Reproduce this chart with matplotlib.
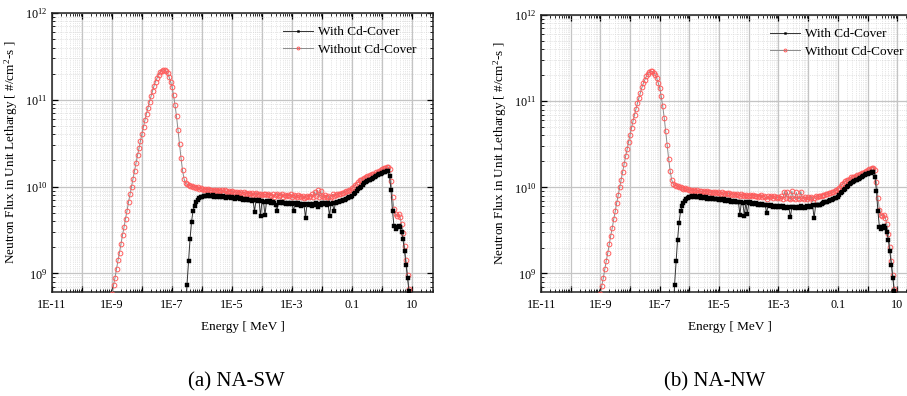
import matplotlib
matplotlib.use("Agg")
import matplotlib.pyplot as plt
from matplotlib.ticker import LogLocator, FuncFormatter, NullFormatter

plt.rcParams['font.family'] = ['Liberation Serif', 'DejaVu Serif']
plt.rcParams['mathtext.fontset'] = 'custom'
plt.rcParams['mathtext.rm'] = 'Liberation Serif'
plt.rcParams['mathtext.it'] = 'Liberation Serif:italic'

# ---------------- data (log10 values) ----------------
# energy grid, log10(E / MeV)
log_energy = [
    -9.00, -8.95, -8.90, -8.85, -8.80, -8.75, -8.70, -8.65, -8.60, -8.55,
    -8.50, -8.45, -8.40, -8.35, -8.30, -8.25, -8.20, -8.15, -8.10, -8.05,
    -8.00, -7.95, -7.90, -7.85, -7.80, -7.75, -7.70, -7.65, -7.60, -7.55,
    -7.50, -7.45, -7.40, -7.35, -7.30, -7.25, -7.20, -7.15, -7.10, -7.05,
    -7.00, -6.95, -6.90, -6.85, -6.80, -6.75, -6.70, -6.65, -6.60, -6.55,
    -6.50, -6.45, -6.40, -6.35, -6.30, -6.25, -6.20, -6.15, -6.10, -6.05,
    -6.00, -5.95, -5.90, -5.85, -5.80, -5.75, -5.70, -5.65, -5.60, -5.55,
    -5.50, -5.45, -5.40, -5.35, -5.30, -5.25, -5.20, -5.15, -5.10, -5.05,
    -5.00, -4.95, -4.90, -4.85, -4.80, -4.75, -4.70, -4.65, -4.60, -4.55,
    -4.50, -4.45, -4.40, -4.35, -4.30, -4.25, -4.20, -4.15, -4.10, -4.05,
    -4.00, -3.95, -3.90, -3.85, -3.80, -3.75, -3.70, -3.65, -3.60, -3.55,
    -3.50, -3.45, -3.40, -3.35, -3.30, -3.25, -3.20, -3.15, -3.10, -3.05,
    -3.00, -2.95, -2.90, -2.85, -2.80, -2.75, -2.70, -2.65, -2.60, -2.55,
    -2.50, -2.45, -2.40, -2.35, -2.30, -2.25, -2.20, -2.15, -2.10, -2.05,
    -2.00, -1.95, -1.90, -1.85, -1.80, -1.75, -1.70, -1.65, -1.60, -1.55,
    -1.50, -1.45, -1.40, -1.35, -1.30, -1.25, -1.20, -1.15, -1.10, -1.05,
    -1.00, -0.95, -0.90, -0.85, -0.80, -0.75, -0.70, -0.65, -0.60, -0.55,
    -0.50, -0.45, -0.40, -0.35, -0.30, -0.25, -0.20, -0.15, -0.10, -0.05,
    0.00, 0.05, 0.10, 0.15, 0.20, 0.25, 0.30, 0.35, 0.40, 0.45,
    0.50, 0.55, 0.60, 0.65, 0.70, 0.75, 0.80, 0.85, 0.90, 0.95,
]

# Without Cd-Cover: thermal part, E = 1E-9 ... 1E-6 MeV (61 points)
red_thermal = [
    8.76, 8.86, 8.95, 9.05, 9.15, 9.24, 9.34, 9.44, 9.53, 9.63,
    9.72, 9.82, 9.91, 10.00, 10.09, 10.18, 10.27, 10.36, 10.44, 10.53,
    10.61, 10.69, 10.77, 10.84, 10.91, 10.98, 11.04, 11.10, 11.16, 11.21,
    11.25, 11.29, 11.32, 11.335, 11.345, 11.345, 11.33, 11.305, 11.265, 11.21,
    11.15, 11.055, 10.94, 10.81, 10.655, 10.49, 10.33, 10.19, 10.09, 10.04,
    10.025, 10.02, 10.01, 10.005, 10.00, 9.995, 9.985, 9.99, 9.975, 9.98,
    9.97,
]
# Without Cd-Cover: epithermal plateau, E = 10^-5.95 ... 10^-1.5 (90 points)
red_plateau_a = [
    9.965, 9.975, 9.96, 9.97, 9.955, 9.965, 9.95, 9.96, 9.965, 9.945,
    9.96, 9.95, 9.955, 9.94, 9.955, 9.945, 9.935, 9.95, 9.94, 9.945,
    9.93, 9.94, 9.935, 9.925, 9.94, 9.93, 9.92, 9.935, 9.925, 9.915,
    9.93, 9.92, 9.925, 9.90, 9.915, 9.925, 9.905, 9.92, 9.91, 9.90,
    9.915, 9.91, 9.90, 9.92, 9.905, 9.895, 9.91, 9.88, 9.905, 9.915,
    9.895, 9.90, 9.91, 9.885, 9.905, 9.895, 9.90, 9.89, 9.91, 9.885,
    9.90, 9.895, 9.875, 9.90, 9.89, 9.88, 9.895, 9.87, 9.885, 9.895,
    9.88, 9.89, 9.91, 9.885, 9.94, 9.895, 9.955, 9.88, 9.945, 9.89,
    9.875, 9.90, 9.88, 9.895, 9.84, 9.885, 9.91, 9.895, 9.905, 9.91,
]
red_plateau_b = [
    9.97, 9.96, 9.965, 9.955, 9.97, 9.95, 9.96, 9.955, 9.945, 9.96,
    9.945, 9.955, 9.94, 9.95, 9.935, 9.945, 9.95, 9.93, 9.945, 9.935,
    9.925, 9.94, 9.93, 9.92, 9.935, 9.925, 9.93, 9.915, 9.925, 9.92,
    9.91, 9.925, 9.915, 9.905, 9.92, 9.91, 9.90, 9.915, 9.905, 9.895,
    9.91, 9.90, 9.915, 9.895, 9.905, 9.89, 9.90, 9.91, 9.885, 9.90,
    9.89, 9.87, 9.895, 9.885, 9.90, 9.88, 9.895, 9.885, 9.875, 9.89,
    9.88, 9.895, 9.87, 9.95, 9.88, 9.945, 9.875, 9.86, 9.955, 9.88,
    9.87, 9.94, 9.875, 9.865, 9.95, 9.88, 9.87, 9.885, 9.87, 9.885,
    9.875, 9.89, 9.83, 9.88, 9.895, 9.885, 9.90, 9.895, 9.905, 9.91,
]
# Without Cd-Cover: fast part, E = 10^-1.45 ... 10^0.95 (49 points)
red_fast = [
    9.915, 9.92, 9.925, 9.93, 9.935, 9.945, 9.95, 9.96, 9.965, 9.98,
    9.995, 10.015, 10.035, 10.05, 10.07, 10.08, 10.09, 10.10, 10.115, 10.12,
    10.125, 10.13, 10.14, 10.145, 10.15, 10.165, 10.17, 10.18, 10.19, 10.20,
    10.21, 10.215, 10.225, 10.23, 10.20, 10.06, 9.88, 9.74, 9.68, 9.665,
    9.68, 9.645, 9.57, 9.46, 9.31, 9.15, 8.98, 8.82, 8.65,
]

# With Cd-Cover: starts at E = 10^-6.55 (grid index 49)
black_start = 49
black_rise = [
    8.50, 8.87, 9.14, 9.39, 9.59, 9.72, 9.78, 9.82, 9.845, 9.865,
    9.875, 9.885,
]
black_plateau_a = [
    9.89, 9.895, 9.89, 9.90, 9.895, 9.89, 9.90, 9.885, 9.895, 9.88,
    9.89, 9.885, 9.875, 9.89, 9.88, 9.87, 9.885, 9.875, 9.865, 9.88,
    9.87, 9.86, 9.875, 9.865, 9.855, 9.87, 9.85, 9.86, 9.845, 9.855,
    9.84, 9.85, 9.835, 9.845, 9.71, 9.84, 9.83, 9.845, 9.66, 9.835,
    9.825, 9.67, 9.83, 9.82, 9.835, 9.815, 9.825, 9.81, 9.79, 9.72,
    9.825, 9.81, 9.82, 9.805, 9.815, 9.80, 9.81, 9.795, 9.815, 9.80,
    9.72, 9.805, 9.79, 9.81, 9.795, 9.78, 9.80, 9.79, 9.64, 9.80,
    9.785, 9.795, 9.78, 9.80, 9.79, 9.805, 9.77, 9.80, 9.785, 9.805,
    9.795, 9.81, 9.79, 9.805, 9.66, 9.80, 9.81, 9.72, 9.815, 9.82,
]
black_plateau_b = [
    9.885, 9.895, 9.885, 9.895, 9.89, 9.885, 9.895, 9.88, 9.89, 9.875,
    9.885, 9.87, 9.88, 9.87, 9.875, 9.865, 9.87, 9.86, 9.87, 9.855,
    9.865, 9.85, 9.86, 9.845, 9.855, 9.84, 9.85, 9.835, 9.845, 9.83,
    9.84, 9.825, 9.835, 9.68, 9.83, 9.82, 9.67, 9.825, 9.69, 9.815,
    9.825, 9.81, 9.82, 9.805, 9.815, 9.80, 9.81, 9.795, 9.805, 9.79,
    9.80, 9.70, 9.795, 9.78, 9.79, 9.775, 9.785, 9.77, 9.78, 9.775,
    9.785, 9.77, 9.78, 9.765, 9.775, 9.765, 9.775, 9.65, 9.77, 9.775,
    9.765, 9.775, 9.76, 9.77, 9.78, 9.765, 9.775, 9.76, 9.78, 9.77,
    9.785, 9.775, 9.79, 9.64, 9.79, 9.795, 9.79, 9.80, 9.805, 9.815,
]
black_fast = [
    9.825, 9.83, 9.835, 9.84, 9.85, 9.855, 9.865, 9.875, 9.88, 9.89,
    9.91, 9.93, 9.95, 9.97, 9.985, 10.00, 10.02, 10.04, 10.05, 10.06,
    10.07, 10.08, 10.09, 10.10, 10.11, 10.12, 10.13, 10.14, 10.15, 10.155,
    10.165, 10.17, 10.18, 10.175, 10.12, 9.96, 9.72, 9.54, 9.515, 9.535,
    9.55, 9.53, 9.48, 9.39, 9.26, 9.10, 8.95, 8.80, 8.64,
]

panel_titles = ["(a) NA-SW", "(b) NA-NW"]
series_names = ["With Cd-Cover", "Without Cd-Cover"]
x_tick_labels = {-11: "1E-11", -9: "1E-9", -7: "1E-7", -5: "1E-5",
                 -3: "1E-3", -1: "0.1", 1: "10"}

panels = [
    (red_thermal + red_plateau_a + red_fast, black_rise + black_plateau_a + black_fast),
    (red_thermal + red_plateau_b + red_fast, black_rise + black_plateau_b + black_fast),
]

# ---------------- figure ----------------
W, H = 907, 396
fig = plt.figure(figsize=(W / 100, H / 100), dpi=100)
ax_rects = [
    [52 / W, (H - 292) / H, 381 / W, 279 / H],
    [541 / W, (H - 292) / H, 377 / W, 277 / H],
]
legend_anchor = [(231 / 381, 1 - 13 / 279), (229 / 377, 1 - 13 / 277)]
caption_x = [236 / W, 715 / W]

energy = [10 ** v for v in log_energy]

def xfmt(v, pos):
    import math
    if v <= 0:
        return ""
    k = int(round(math.log10(v)))
    return x_tick_labels.get(k, "")

def yfmt(v, pos):
    import math
    if v <= 0:
        return ""
    k = int(round(math.log10(v)))
    return r"$\mathregular{10^{%d}}$" % k

for i, (red_vals, black_vals) in enumerate(panels):
    ax = fig.add_axes(ax_rects[i])
    red_flux = [10 ** v for v in red_vals]
    black_flux = [10 ** v for v in black_vals]
    e_black = energy[black_start:]

    l_red, = ax.plot(energy, red_flux, color='#8c8c8c', lw=0.7,
                     marker='o', ms=3.4, mfc='none', mec='#ff5c5c', mew=0.7,
                     zorder=3)
    l_blk, = ax.plot(e_black, black_flux, color='#333333', lw=0.7,
                     marker='s', ms=2.3, mfc='black', mec='black', mew=0.3,
                     zorder=4)

    ax.set_xscale('log')
    ax.set_yscale('log')
    ax.set_xlim(1e-11, 10 ** 1.7)
    ax.set_ylim(10 ** 8.785, 1e12)

    ax.xaxis.set_major_locator(LogLocator(base=10, numticks=30))
    ax.xaxis.set_minor_locator(LogLocator(base=10, subs=[2, 3, 4, 5, 6, 7, 8, 9], numticks=300))
    ax.xaxis.set_major_formatter(FuncFormatter(xfmt))
    ax.xaxis.set_minor_formatter(NullFormatter())
    ax.yaxis.set_major_locator(LogLocator(base=10, numticks=10))
    ax.yaxis.set_minor_locator(LogLocator(base=10, subs=[2, 3, 4, 5, 6, 7, 8, 9], numticks=100))
    ax.yaxis.set_major_formatter(FuncFormatter(yfmt))
    ax.yaxis.set_minor_formatter(NullFormatter())

    ax.tick_params(which='both', direction='in', top=True, right=True,
                   labelsize=8.7, colors='black')
    ax.tick_params(which='major', length=4, width=0.9)
    ax.tick_params(which='minor', length=2, width=0.6)
    ax.tick_params(axis='x', pad=5)

    ax.grid(True, which='major', color='#c4c4c4', lw=0.9, ls='-', zorder=0)
    ax.grid(True, which='minor', color='#cfcfcf', lw=0.5, ls=':', zorder=0)
    ax.set_axisbelow(True)
    for s in ax.spines.values():
        s.set_linewidth(1.1)
        s.set_color('#222222')

    ax.set_xlabel("Energy [ MeV ]", fontsize=9.5, labelpad=7)
    ax.set_ylabel(r"Neutron Flux in Unit Lethargy [ #/cm$^{2}$-s ]", fontsize=9.5, labelpad=3)

    ax.legend([l_blk, l_red], series_names, loc='upper left',
              bbox_to_anchor=legend_anchor[i], frameon=False,
              fontsize=9.5, handlelength=2.3, handletextpad=0.35,
              labelspacing=0.42, borderaxespad=0.0, borderpad=0.0,
              markerscale=0.6)

    fig.text(caption_x[i], 1 - 382 / H, panel_titles[i], ha='center', va='center',
             fontsize=15)

fig.savefig("out.png", dpi=100)
